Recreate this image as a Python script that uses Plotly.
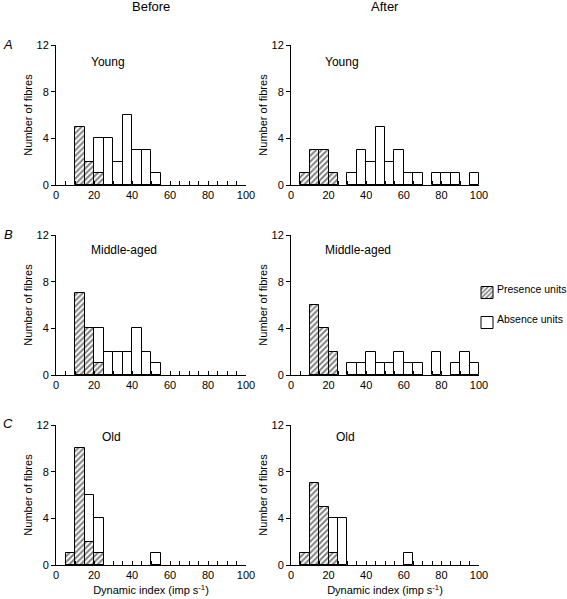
import plotly.graph_objects as go

# Bin centres (5 imp/s bins, 0-100)
bin_centres = [2.5 + 5 * i for i in range(20)]

# counts per bin (index 0 -> 0-5, 1 -> 5-10, ...)
young_before_presence = [0, 0, 5, 2, 1, 0, 0, 0, 0, 0, 0, 0, 0, 0, 0, 0, 0, 0, 0, 0]
young_before_absence  = [0, 0, 0, 0, 4, 4, 2, 6, 3, 3, 1, 0, 0, 0, 0, 0, 0, 0, 0, 0]
young_after_presence  = [0, 1, 3, 3, 1, 0, 0, 0, 0, 0, 0, 0, 0, 0, 0, 0, 0, 0, 0, 0]
young_after_absence   = [0, 0, 0, 0, 0, 0, 1, 3, 2, 5, 2, 3, 1, 1, 0, 1, 1, 1, 0, 1]
middle_before_presence = [0, 0, 7, 4, 1, 0, 0, 0, 0, 0, 0, 0, 0, 0, 0, 0, 0, 0, 0, 0]
middle_before_absence  = [0, 0, 0, 0, 4, 2, 2, 2, 4, 2, 1, 0, 0, 0, 0, 0, 0, 0, 0, 0]
middle_after_presence  = [0, 0, 6, 4, 2, 0, 0, 0, 0, 0, 0, 0, 0, 0, 0, 0, 0, 0, 0, 0]
middle_after_absence   = [0, 0, 0, 0, 0, 0, 1, 1, 2, 1, 1, 2, 1, 1, 0, 2, 0, 1, 2, 1]
old_before_presence = [0, 1, 10, 2, 1, 0, 0, 0, 0, 0, 0, 0, 0, 0, 0, 0, 0, 0, 0, 0]
old_before_absence  = [0, 0, 0, 6, 4, 0, 0, 0, 0, 0, 1, 0, 0, 0, 0, 0, 0, 0, 0, 0]
old_after_presence  = [0, 1, 7, 5, 1, 0, 0, 0, 0, 0, 0, 0, 0, 0, 0, 0, 0, 0, 0, 0]
old_after_absence   = [0, 0, 0, 0, 4, 4, 0, 0, 0, 0, 0, 0, 1, 0, 0, 0, 0, 0, 0, 0]

panel_labels = ["Young", "Young", "Middle-aged", "Middle-aged", "Old", "Old"]
column_titles = ["Before", "After"]
row_letters = ["A", "B", "C"]
legend_names = ["Presence units", "Absence units"]
y_ticks = [0, 4, 8, 12]
x_ticks = [0, 20, 40, 60, 80, 100]

panels = [
    (young_before_presence, young_before_absence),
    (young_after_presence, young_after_absence),
    (middle_before_presence, middle_before_absence),
    (middle_after_presence, middle_after_absence),
    (old_before_presence, old_before_absence),
    (old_after_presence, old_after_absence),
]

W, H = 567, 599
FONT = "Liberation Sans, Arial, sans-serif"

# pixel geometry of panels
col_x = [(56, 246), (291, 479)]
row_y = [(45, 185), (235, 375), (425, 565)]

HATCH = dict(shape="/", fgcolor="black", bgcolor="white", size=4, solidity=0.5)

fig = go.Figure()

def nz(x, y):
    xs, ys = [], []
    for a, b in zip(x, y):
        if b > 0:
            xs.append(a); ys.append(b)
    return xs, ys

layout = {}
for i, (pres, absn) in enumerate(panels):
    r, c = divmod(i, 2)
    n = i + 1
    xa = "x" if n == 1 else f"x{n}"
    ya = "y" if n == 1 else f"y{n}"
    xs, ys = nz(bin_centres, absn)
    fig.add_trace(go.Bar(
        x=xs, y=ys, xaxis=xa, yaxis=ya, width=5,
        marker=dict(color="white", line=dict(color="black", width=1)),
        name=legend_names[1], showlegend=False,
    ))
    xs, ys = nz(bin_centres, pres)
    fig.add_trace(go.Bar(
        x=xs, y=ys, xaxis=xa, yaxis=ya, width=5,
        marker=dict(color="white", line=dict(color="black", width=1), pattern=HATCH),
        name=legend_names[0], showlegend=False,
    ))
    x0, x1 = col_x[c]
    yt, yb = row_y[r]
    key = "" if n == 1 else str(n)
    layout["xaxis" + key] = dict(
        domain=[x0 / W, x1 / W], range=[0, 100], anchor=ya, automargin=False,
        tickvals=x_ticks, ticks="inside", ticklen=4, tickcolor="black",
        minor=dict(dtick=5, tick0=0, ticks="inside", ticklen=4, tickcolor="black"),
        showline=True, linecolor="black", linewidth=1, showgrid=False, zeroline=False,
        tickfont=dict(family=FONT, size=11, color="black"),
        title=dict(text="Dynamic index (imp s<sup>-1</sup>)" if r == 2 else "",
                   font=dict(family=FONT, size=11, color="black"), standoff=6),
        fixedrange=True,
    )
    layout["yaxis" + key] = dict(
        domain=[1 - yb / H, 1 - yt / H], range=[0, 12], anchor=xa, automargin=False,
        tickvals=y_ticks, ticks="outside", ticklen=4, tickcolor="black",
        showline=True, linecolor="black", linewidth=1, showgrid=False, zeroline=False,
        tickfont=dict(family=FONT, size=11, color="black"),
        title=dict(text="Number of fibres", font=dict(family=FONT, size=11, color="black"),
                   standoff=1),
        fixedrange=True,
    )

# legend entries (symbols only, text as annotations)
fig.add_trace(go.Bar(
    x=[None], y=[None],
    marker=dict(color="white", line=dict(color="black", width=1), pattern=HATCH),
    name=" ", showlegend=True, legend="legend",
))
fig.add_trace(go.Bar(
    x=[None], y=[None],
    marker=dict(color="white", line=dict(color="black", width=1)),
    name=" ", showlegend=True, legend="legend2",
))

annotations = []
def ann(text, px, py, size, xanchor="center"):
    annotations.append(dict(text=text, x=px / W, y=1 - py / H, xref="paper", yref="paper",
                            showarrow=False, xanchor=xanchor, yanchor="middle",
                            font=dict(family=FONT, size=size, color="black")))

for c, t in enumerate(column_titles):
    x0, x1 = col_x[c]
    ann(t, (x0 + x1) / 2, 7, 13)
for r, L in enumerate(row_letters):
    ann(f"<i>{L}</i>", 8, row_y[r][0] - 1, 13)
label_pos = [(89, 62), (323, 62), (89, 250), (323, 250), (100, 437), (334, 437)]
for (px, py), t in zip(label_pos, panel_labels):
    ann(t, px, py, 12, "left")
for t, py in zip(legend_names, [289, 319]):
    ann(t, 495, py, 10.5, "left")

fig.update_layout(
    width=W, height=H, margin=dict(l=0, r=0, t=0, b=0),
    paper_bgcolor="white", plot_bgcolor="white",
    barmode="overlay", bargap=0,
    annotations=annotations,
    legend=dict(x=467 / W, y=1 - 278 / H, xanchor="left", yanchor="top",
                font=dict(family=FONT, size=11), bgcolor="rgba(0,0,0,0)", itemwidth=30),
    legend2=dict(x=467 / W, y=1 - 308 / H, xanchor="left", yanchor="top",
                 font=dict(family=FONT, size=11), bgcolor="rgba(0,0,0,0)", itemwidth=30),
    **layout,
)

fig.write_html("out.html", config={"displayModeBar": False},
               post_script="document.body.style.margin='0';")
